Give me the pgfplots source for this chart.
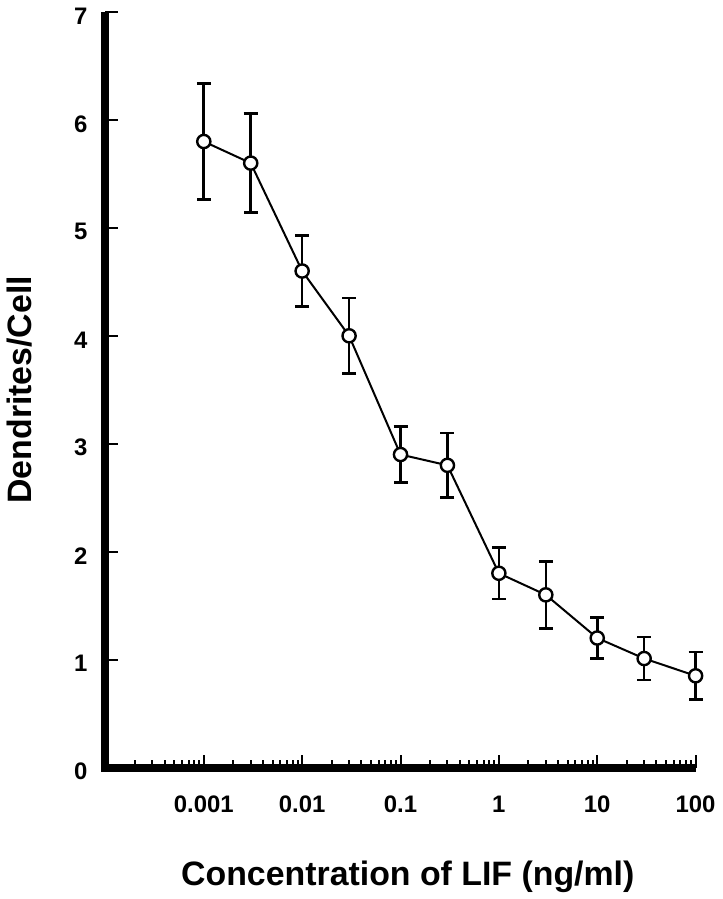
\documentclass[border=0pt]{standalone}
\usepackage{pgfplots}
\usepackage{pgfplotstable}
\pgfplotsset{compat=1.18}
\usepackage{fontspec}
\setmainfont{Liberation Sans}

% concentration (ng/ml), dendrites per cell, error
\pgfplotstableread{
conc  dend  err
0.001 5.80  0.54
0.003 5.60  0.46
0.01  4.60  0.33
0.03  4.00  0.35
0.1   2.90  0.26
0.3   2.80  0.30
1     1.80  0.24
3     1.60  0.31
10    1.20  0.19
30    1.01  0.20
100   0.85  0.22
}\lifdata

\begin{document}
\begin{tikzpicture}
\begin{axis}[
  xmode=log, scale only axis, width=295.25bp, height=378bp,
  xmin=1e-4, xmax=100, ymin=0, ymax=7,
  axis x line*=bottom, axis y line*=left,
  axis line style={line width=4bp},
  tick align=inside, major tick length=6.5bp, minor tick length=4bp,
  every tick/.style={black, line width=1bp},
  xtick={0.001,0.01,0.1,1,10,100},
  xticklabels={0.001,0.01,0.1,1,10,100},
  minor xtick={2e-4,3e-4,4e-4,5e-4,6e-4,7e-4,8e-4,9e-4,
    0.002,0.003,0.004,0.005,0.006,0.007,0.008,0.009,
    0.02,0.03,0.04,0.05,0.06,0.07,0.08,0.09,
    0.2,0.3,0.4,0.5,0.6,0.7,0.8,0.9,
    2,3,4,5,6,7,8,9,20,30,40,50,60,70,80,90},
  ytick={0,1,2,3,4,5,6,7},
  /pgf/number format/assume math mode=true,
  tick label style={font=\bfseries\fontsize{12}{14}\selectfont},
  xticklabel style={yshift=-10.5bp},
  yticklabel style={xshift=-5.5bp, yshift=-2bp},
  xlabel={Concentration of LIF (ng/ml)},
  ylabel={Dendrites/Cell},
  label style={font=\bfseries\fontsize{17}{20}\selectfont},
  xlabel style={at={(axis description cs:0.5123,-0.1557)}, anchor=base},
  ylabel style={at={(axis description cs:-0.1456,0.5)}, anchor=center},
  clip=false,
]
\addplot[black, line width=1bp, mark=none,
  error bars/.cd, y dir=both, y explicit,
  error bar style={line width=1.3bp},
  error mark options={rotate=90, mark size=3.5bp, line width=1.3bp}]
  table[x=conc, y=dend, y error=err]{\lifdata};
\addplot[only marks, mark=*, mark size=3.3bp,
  mark options={fill=white, draw=black, line width=1.2bp}]
  table[x=conc, y=dend]{\lifdata};
\draw[line width=4bp, line join=miter] (rel axis cs:0,1) -- (rel axis cs:0,0) -- (rel axis cs:1,0);
\path ([xshift=-52.75bp,yshift=-65.5bp]rel axis cs:0,0) rectangle ([xshift=13bp,yshift=6bp]rel axis cs:1,1);
\end{axis}
\end{tikzpicture}
\end{document}
